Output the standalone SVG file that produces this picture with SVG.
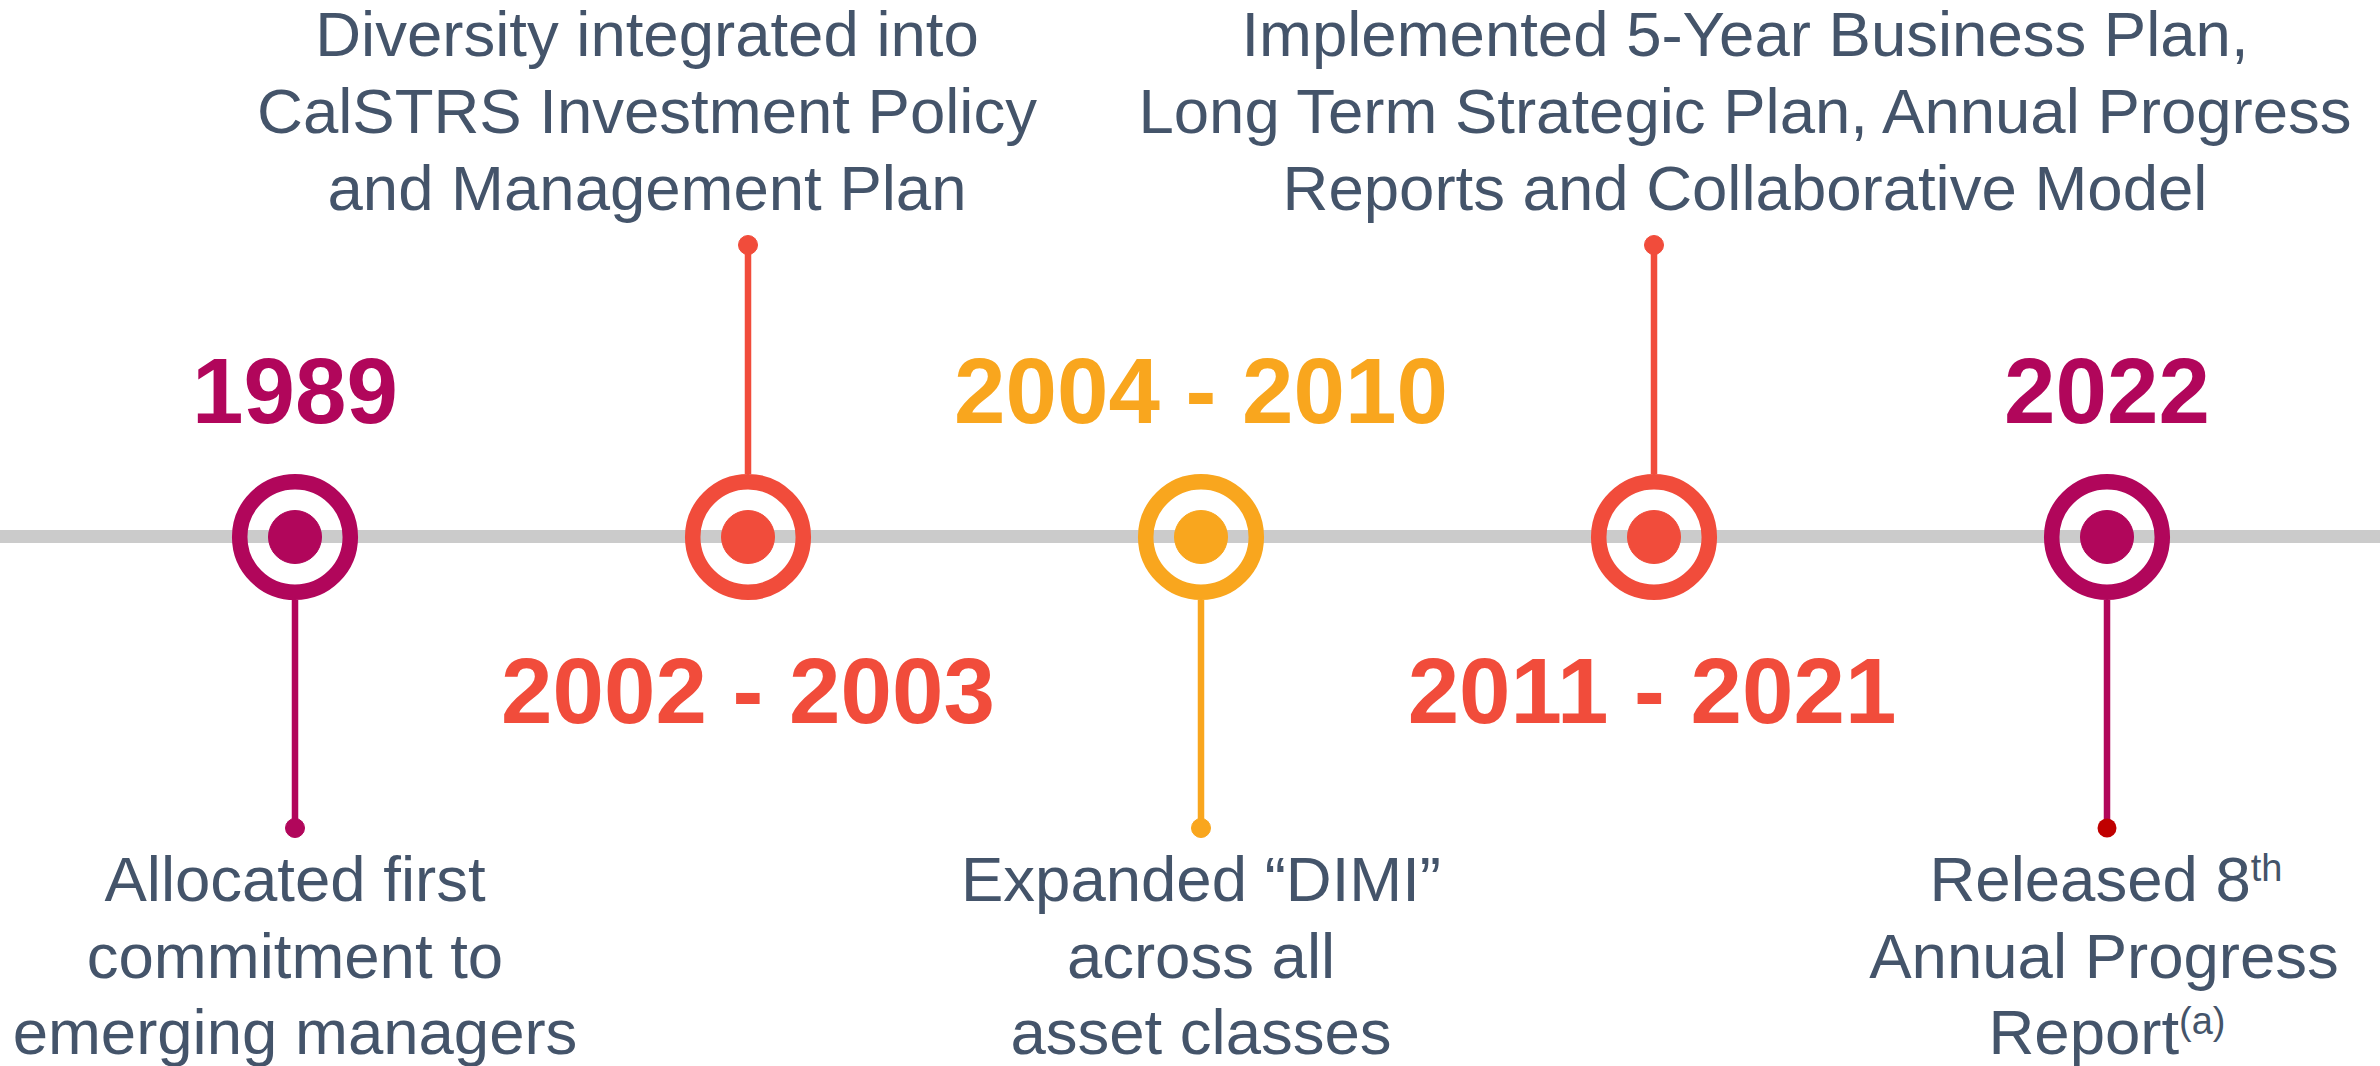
<svg xmlns="http://www.w3.org/2000/svg" width="2380" height="1066" viewBox="0 0 2380 1066">
  <style>
    .year { font-family: "Liberation Sans", Arial, sans-serif; font-weight: bold; font-size: 92.5px; text-anchor: middle; }
    .desc { font-family: "Liberation Sans", Arial, sans-serif; font-size: 63.5px; fill: #44546A; text-anchor: middle; }
    .sup { font-size: 38px; }
    .ring { fill: none; stroke-width: 15.5; }
    .stem { stroke-width: 6.5; fill: none; }
    .magenta { fill: #B1065B; stroke: #B1065B; }
    .red { fill: #F14C3B; stroke: #F14C3B; }
    .amber { fill: #F9A61E; stroke: #F9A61E; }
    .ring.magenta, .ring.red, .ring.amber { fill: none; }
    .stem.magenta, .stem.red, .stem.amber { fill: none; }
    text.magenta, text.red, text.amber { stroke: none; }
  </style>

  <rect width="2380" height="1066" fill="#FFFFFF"/>

  <!-- timeline bar and the stems that tie each milestone to its caption -->
  <g id="connectors">
    <rect x="0" y="530" width="2380" height="13" fill="#CBCBCB"/>
    <line class="stem magenta" x1="295" y1="600" x2="295" y2="828"/>
    <circle class="magenta" cx="295" cy="828" r="9.5" stroke="none"/>
    <line class="stem red" x1="748" y1="474" x2="748" y2="245"/>
    <circle class="red" cx="748" cy="245" r="9.5" stroke="none"/>
    <line class="stem amber" x1="1201" y1="600" x2="1201" y2="828"/>
    <circle class="amber" cx="1201" cy="828" r="9.5" stroke="none"/>
    <line class="stem red" x1="1654" y1="474" x2="1654" y2="245"/>
    <circle class="red" cx="1654" cy="245" r="9.5" stroke="none"/>
    <line class="stem magenta" x1="2107" y1="600" x2="2107" y2="828"/>
    <circle cx="2107" cy="828" r="9.5" fill="#C00000"/>
  </g>

  <!-- 1989 -->
  <g id="node-1989">
    <circle class="ring magenta" cx="295" cy="537" r="55.3"/>
    <circle class="magenta" cx="295" cy="537" r="26.5" stroke="none"/>
    <text class="year magenta" x="295" y="423">1989</text>
    <text class="desc" x="295" y="901">Allocated first</text>
    <text class="desc" x="295" y="978">commitment to</text>
    <text class="desc" x="295" y="1054">emerging managers</text>
  </g>

  <!-- 2002 - 2003 -->
  <g id="node-2002">
    <circle class="ring red" cx="748" cy="537" r="55.3"/>
    <circle class="red" cx="748" cy="537" r="26.5" stroke="none"/>
    <text class="year red" x="748" y="723">2002 - 2003</text>
    <text class="desc" x="647" y="56">Diversity integrated into</text>
    <text class="desc" x="647" y="133">CalSTRS Investment Policy</text>
    <text class="desc" x="647" y="210">and Management Plan</text>
  </g>

  <!-- 2004 - 2010 -->
  <g id="node-2004">
    <circle class="ring amber" cx="1201" cy="537" r="55.3"/>
    <circle class="amber" cx="1201" cy="537" r="26.5" stroke="none"/>
    <text class="year amber" x="1201" y="423">2004 - 2010</text>
    <text class="desc" x="1201" y="901">Expanded “DIMI”</text>
    <text class="desc" x="1201" y="978">across all</text>
    <text class="desc" x="1201" y="1054">asset classes</text>
  </g>

  <!-- 2011 - 2021 -->
  <g id="node-2011">
    <circle class="ring red" cx="1654" cy="537" r="55.3"/>
    <circle class="red" cx="1654" cy="537" r="26.5" stroke="none"/>
    <text class="year red" x="1652" y="723">2011 - 2021</text>
    <text class="desc" x="1745" y="56">Implemented 5-Year Business Plan,</text>
    <text class="desc" x="1745" y="133">Long Term Strategic Plan, Annual Progress</text>
    <text class="desc" x="1745" y="210">Reports and Collaborative Model</text>
  </g>

  <!-- 2022 -->
  <g id="node-2022">
    <circle class="ring magenta" cx="2107" cy="537" r="55.3"/>
    <circle class="magenta" cx="2107" cy="537" r="26.5" stroke="none"/>
    <text class="year magenta" x="2107" y="423">2022</text>
    <text class="desc" x="2106" y="901">Released 8<tspan class="sup" dy="-20">th</tspan></text>
    <text class="desc" x="2104" y="978">Annual Progress</text>
    <text class="desc" x="2107" y="1054">Report<tspan class="sup" dy="-20">(a)</tspan></text>
  </g>
</svg>
